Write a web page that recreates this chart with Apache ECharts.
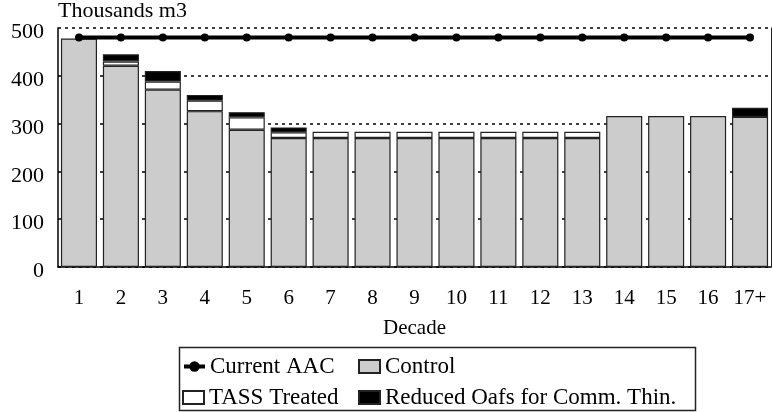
<!DOCTYPE html>
<html>
<head>
<meta charset="utf-8">
<script src="https://cdn.jsdelivr.net/npm/echarts@6/dist/echarts.min.js"></script>
<style>
  html, body { margin: 0; padding: 0; background: #fff; }
  #chart { width: 773px; height: 412px; }
</style>
</head>
<body>
<div id="chart"></div>
<script>
const decades = ['1', '2', '3', '4', '5', '6', '7', '8', '9', '10', '11', '12', '13', '14', '15', '16', '17+']
const currentAAC = [480, 480, 480, 480, 480, 480, 480, 480, 480, 480, 480, 480, 480, 480, 480, 480, 480]
const control = [478, 421, 371, 326, 287, 270, 270, 270, 270, 270, 270, 270, 270, 316, 316, 316, 314]
const tassTreated = [null, 9, 17, 22, 26, 12, 13, 13, 13, 13, 13, 13, 13, null, null, null, null]
const reducedOafs = [null, 15, 22, 12, 11, 10, null, null, null, null, null, null, null, null, null, null, 19]
const yTicks = [0, 100, 200, 300, 400, 500]

const font = "'Liberation Serif', 'Times New Roman', serif"
const longName = 'Reduced Oafs for Comm. Thin.'

const chart = echarts.init(document.getElementById('chart'))

function barSeries(name, data, color) {
  return {
    name: name,
    type: 'bar',
    stack: 'total',
    data: data,
    barCategoryGap: '14%',
    itemStyle: {
      color: color,
      borderColor: '#222',
      borderWidth: 1.2
    }
  }
}

// one legend per entry so the two columns line up
function legendItem(name, left, top, icon) {
  const item = {
    data: [name],
    left: left,
    top: top,
    padding: 0,
    itemWidth: 21,
    itemHeight: 13,
    textStyle: { fontFamily: font, fontSize: 23, color: '#000' }
  }
  if (icon) {
    item.icon = icon
  } else {
    item.lineStyle = { width: 4, color: '#000' }
  }
  return item
}

chart.setOption({
  animation: false,
  textStyle: { fontFamily: font, color: '#000' },
  grid: {
    left: 58,
    right: 2,
    top: 27,
    bottom: 145
  },
  legend: [
    legendItem('Current AAC', 182, 355),
    legendItem('Control', 358, 355, 'rect'),
    legendItem('TASS Treated', 182, 386, 'rect'),
    legendItem(longName, 358, 386, 'rect')
  ],
  graphic: [
    {
      type: 'rect',
      left: 177,
      top: 345,
      shape: { width: 516, height: 63 },
      style: { fill: 'none', stroke: '#222', lineWidth: 1.5 },
      silent: true
    }
  ],
  xAxis: {
    type: 'category',
    data: decades,
    name: 'Decade',
    nameLocation: 'middle',
    nameGap: 51,
    nameTextStyle: { fontFamily: font, fontSize: 21, color: '#000' },
    axisLine: { lineStyle: { color: '#000', width: 1.5 } },
    axisTick: { show: false },
    axisLabel: { interval: 0, margin: 21, fontFamily: font, fontSize: 21, color: '#000' }
  },
  yAxis: [
    {
      type: 'value',
      min: yTicks[0],
      max: yTicks[yTicks.length - 1],
      interval: 100,
      name: 'Thousands m3',
      nameLocation: 'end',
      nameGap: 6,
      nameTextStyle: { align: 'left', fontFamily: font, fontSize: 22, color: '#000' },
      axisLine: { show: true, lineStyle: { color: '#000', width: 1.5 } },
      axisTick: { show: false },
      axisLabel: {
        margin: 14,
        fontFamily: font,
        fontSize: 22,
        color: '#000',
        verticalAlign: 'top',
        lineHeight: 9
      },
      splitLine: {
        show: true,
        lineStyle: { color: '#000', width: 1.5, type: [3, 4] }
      }
    },
    {
      type: 'value',
      min: 0,
      max: 500,
      position: 'right',
      axisLine: { show: true, lineStyle: { color: '#222', width: 1 } },
      axisTick: { show: false },
      axisLabel: { show: false },
      splitLine: { show: false }
    }
  ],
  series: [
    barSeries('Control', control, '#cccccc'),
    barSeries('TASS Treated', tassTreated, '#ffffff'),
    barSeries(longName, reducedOafs, '#000000'),
    {
      name: 'Current AAC',
      type: 'line',
      data: currentAAC,
      z: 10,
      symbol: 'circle',
      symbolSize: 8,
      showSymbol: true,
      lineStyle: { color: '#000', width: 4 },
      itemStyle: { color: '#000' }
    }
  ]
})
</script>
</body>
</html>
